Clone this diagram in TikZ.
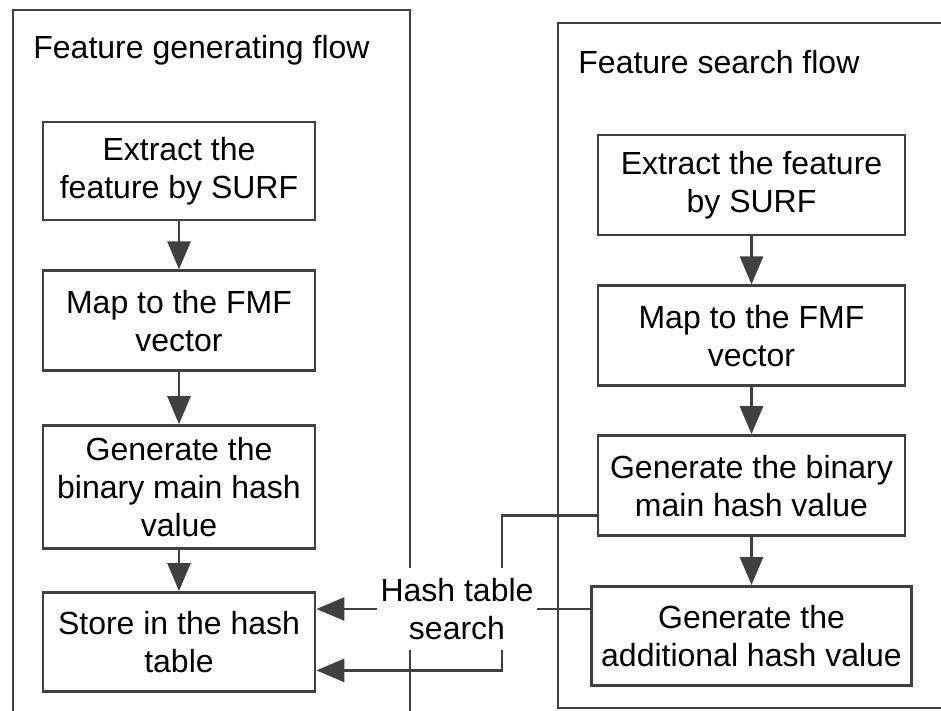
\documentclass[tikz,border=0pt]{standalone}
\usepackage{fontspec}
\setmainfont{Liberation Sans}
\usetikzlibrary{arrows.meta, positioning}
\definecolor{linegray}{HTML}{404040}
\tikzset{
  flowbox/.style={rectangle, draw=linegray, line width=1.4pt, align=center, inner sep=2pt, font=\fontsize{16}{19}\selectfont},
  flowtitle/.style={anchor=west, inner sep=0pt, font=\fontsize{16}{19}\selectfont},
  frame/.style={draw=linegray, line width=1.4pt},
  arrow/.style={-{Triangle[length=14pt, width=11.5pt]}, draw=linegray, line width=1.4pt},
  link/.style={draw=linegray, line width=1.4pt},
}

\begin{document}
\begin{tikzpicture}[x=0.5pt, y=-0.5pt,
  lbox/.style={flowbox, minimum width=136pt},
  rbox/.style={flowbox, minimum width=153.5pt, minimum height=50pt}]
\useasboundingbox (0,0) rectangle (941,711);
\clip (0,0) rectangle (941,711);
% the two flows
\draw[frame] (13,10) rectangle (410,760);
\draw[frame] (558,23) rectangle (1000,708);
\node[flowtitle] (gentitle) at (33,50) {Feature generating flow};
\node[flowtitle] (srchtitle) at (578,62) {Feature search flow};
% generating flow
\node[lbox, minimum height=49pt] (extractL) at (179,171) {Extract the\\feature by SURF};
\node[lbox, minimum height=50pt, below=24pt of extractL] (mapL) {Map to the FMF\\vector};
\node[lbox, minimum height=61.5pt, below=26pt of mapL] (mainL) {Generate the\\binary main hash\\value};
\node[lbox, minimum height=49.5pt, below=20.5pt of mainL] (storeL) {Store in the hash\\table};
% search flow
\node[rbox] (extractR) at (751.5,185) {Extract the feature\\by SURF};
\node[rbox, below=24pt of extractR] (mapR) {Map to the FMF\\vector};
\node[rbox, below=23.5pt of mapR] (mainR) {Generate the binary\\main hash value};
\node[rbox, minimum width=160pt, minimum height=49.5pt, below=24pt of mainR] (addR) {Generate the\\additional hash value};
% search label
\node[fill=white, inner sep=1pt, minimum width=79.5pt, minimum height=41pt, align=center,
  font=\fontsize{16}{19}\selectfont] (hashsearch) at (457,609) {Hash table\\search};
\draw[arrow] (extractL) -- (mapL);
\draw[arrow] (mapL) -- (mainL);
\draw[arrow] (mainL) -- (storeL);
\draw[arrow] (extractR) -- (mapR);
\draw[arrow] (mapR) -- (mainR);
\draw[arrow] (mainR) -- (addR);
\draw[link] ([yshift=-15pt]mainR.west) -| ([xshift=22.5pt]hashsearch.north);
\draw[link] (hashsearch.east) -- (hashsearch.east -| addR.west);
\draw[arrow] (hashsearch.west) -- (hashsearch.west -| storeL.east);
\draw[arrow] ([xshift=22.5pt]hashsearch.south) |- ([yshift=-14.25pt]storeL.east);
\end{tikzpicture}
\end{document}
